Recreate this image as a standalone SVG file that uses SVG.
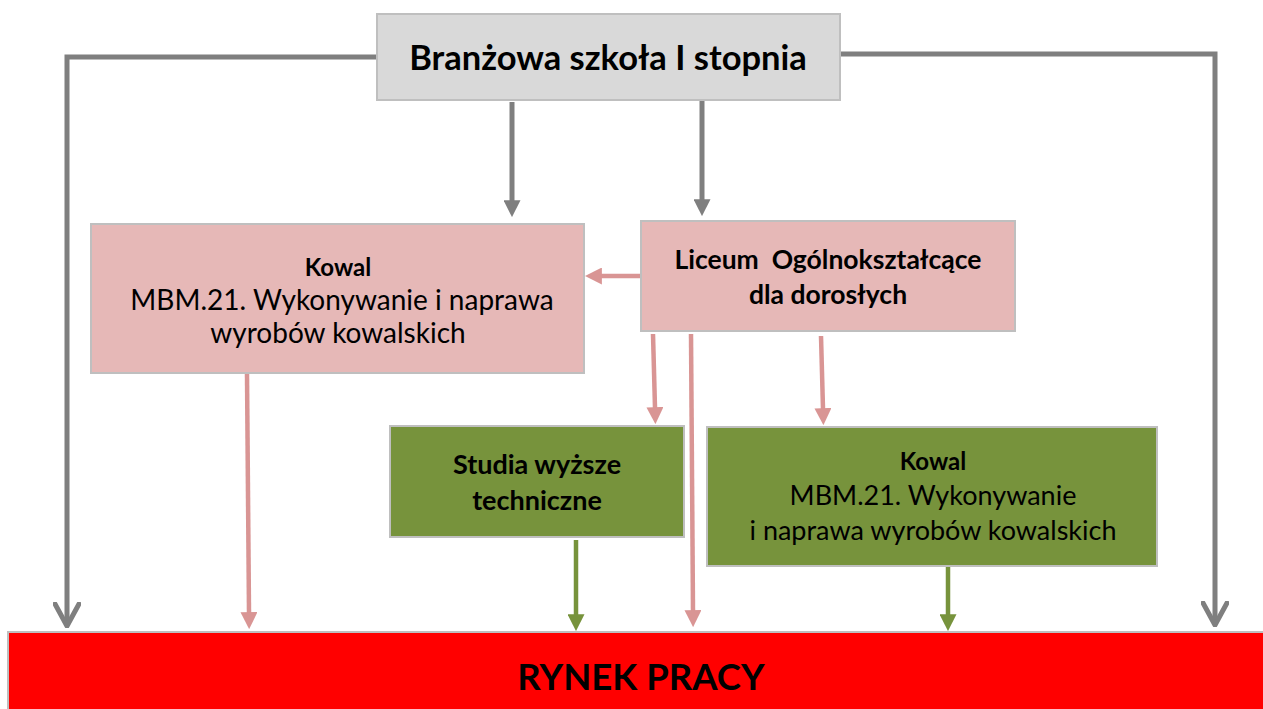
<svg xmlns="http://www.w3.org/2000/svg" width="1263" height="709" viewBox="0 0 1263 709">
<style>
.box{stroke:#bfbfbf;stroke-width:2}
.gray{fill:#d9d9d9}
.pink{fill:#e6b8b7}
.green{fill:#77933c}
.red{fill:#ff0000}
.t{font-family:Lato,"Liberation Sans",sans-serif;fill:#000;text-anchor:middle;white-space:pre}
.b{font-weight:bold}
.cg{stroke:#7f7f7f;stroke-width:5;fill:none}
.cp{stroke:#d99594;stroke-width:4.5;fill:none}
.cv{stroke:#77933c;stroke-width:4.5;fill:none}
</style>
<defs>
<marker id="mg" viewBox="0 0 10 10" refX="0.5" refY="5" markerWidth="17" markerHeight="17" markerUnits="userSpaceOnUse" orient="auto"><path d="M0,0 L10,5 L0,10 Z" fill="#7f7f7f"/></marker>
<marker id="mp" viewBox="0 0 10 10" refX="0.5" refY="5" markerWidth="17" markerHeight="17" markerUnits="userSpaceOnUse" orient="auto"><path d="M0,0 L10,5 L0,10 Z" fill="#d99594"/></marker>
<marker id="mv" viewBox="0 0 10 10" refX="0.5" refY="5" markerWidth="17" markerHeight="17" markerUnits="userSpaceOnUse" orient="auto"><path d="M0,0 L10,5 L0,10 Z" fill="#77933c"/></marker>
<marker id="mo" viewBox="0 0 26 28" refX="24" refY="14" markerWidth="26" markerHeight="28" markerUnits="userSpaceOnUse" orient="auto"><path d="M2,2 L24,14 L2,26" fill="none" stroke="#7f7f7f" stroke-width="5" stroke-linecap="round" stroke-linejoin="round"/></marker>
</defs>
<g id="connectors">
<path class="cg" d="M378,57 H67 V626" marker-end="url(#mo)"/>
<path class="cg" d="M840,54 H1215 V625" marker-end="url(#mo)"/>
<path class="cg" d="M512,102 V201" marker-end="url(#mg)"/>
<path class="cg" d="M702,101 V200" marker-end="url(#mg)"/>
<path class="cp" d="M641,276 H601" marker-end="url(#mp)"/>
<path class="cp" d="M247,374 L249,613" marker-end="url(#mp)"/>
<path class="cp" d="M653,334 L655,408" marker-end="url(#mp)"/>
<path class="cp" d="M691,334 L693,611" marker-end="url(#mp)"/>
<path class="cp" d="M821,336 L823,409" marker-end="url(#mp)"/>
<path class="cv" d="M576,540 V615" marker-end="url(#mv)"/>
<path class="cv" d="M948,567 V615" marker-end="url(#mv)"/>
</g>
<g id="branzowa">
<rect class="box gray" x="377" y="14" width="463" height="86"/>
<text class="t b" x="608" y="70" font-size="34.5">Branżowa szkoła I stopnia</text>
</g>
<g id="kowal1">
<rect class="box pink" x="91" y="224" width="493" height="149"/>
<text class="t b" x="338" y="276" font-size="24">Kowal</text>
<text class="t" x="342" y="310" font-size="28">MBM.21. Wykonywanie i naprawa</text>
<text class="t" x="338" y="343" font-size="28">wyrobów kowalskich</text>
</g>
<g id="liceum">
<rect class="box pink" x="641" y="221" width="374" height="110"/>
<text class="t b" x="828" y="269" font-size="26.5" xml:space="preserve">Liceum  Ogólnokształcące</text>
<text class="t b" x="828" y="304" font-size="26.5">dla dorosłych</text>
</g>
<g id="studia">
<rect class="box green" x="390" y="426" width="294" height="111"/>
<text class="t b" x="537" y="474" font-size="27">Studia wyższe</text>
<text class="t b" x="537" y="510" font-size="27">techniczne</text>
</g>
<g id="kowal2">
<rect class="box green" x="707" y="427" width="450" height="139"/>
<text class="t b" x="933" y="470" font-size="24">Kowal</text>
<text class="t" x="933" y="505" font-size="27">MBM.21. Wykonywanie</text>
<text class="t" x="933" y="540" font-size="27">i naprawa wyrobów kowalskich</text>
</g>
<g id="rynek">
<rect class="box red" x="8" y="632" width="1262" height="85"/>
<text class="t b" x="641" y="690" font-size="36.5">RYNEK PRACY</text>
</g>
</svg>
